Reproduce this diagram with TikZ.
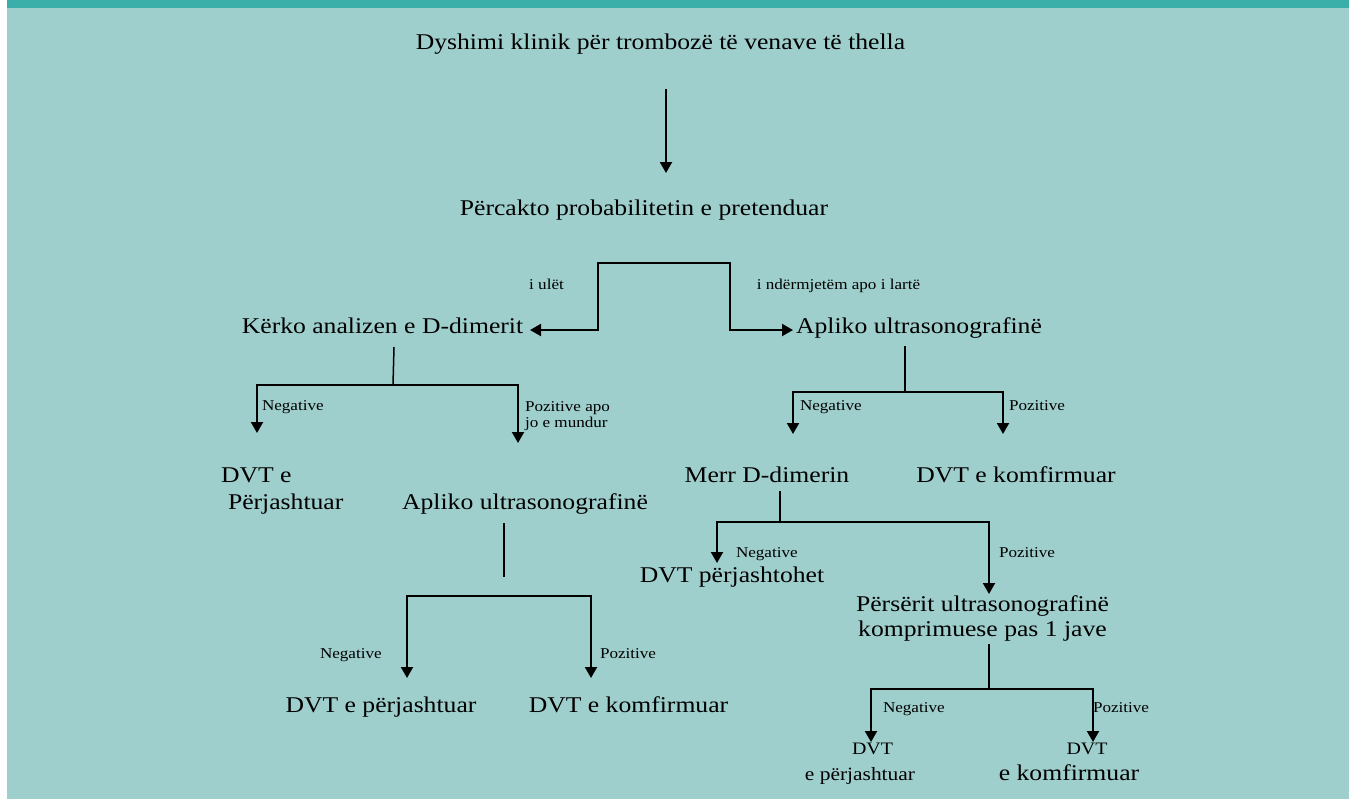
\documentclass[tikz,border=0pt]{standalone}
\usepackage{fontspec}
\setmainfont{Liberation Serif}[FakeStretch=1.14]
\usetikzlibrary{arrows.meta}
\definecolor{bgl}{RGB}{158,207,204}
\definecolor{bgd}{RGB}{58,175,169}
\begin{document}
\begin{tikzpicture}[x=1pt,y=-1pt,
  every node/.style={inner sep=0pt,outer sep=0pt},
  big/.style={font=\fontsize{22.5}{26}\selectfont,anchor=base},
  lbl/.style={font=\fontsize{15}{17}\selectfont,anchor=base west},
  sml/.style={font=\fontsize{17.5}{20}\selectfont,anchor=base},
  ln/.style={line width=1.5pt},
  arr/.style={line width=2pt,-{Triangle[width=12pt,length=11pt]}}]
\useasboundingbox (0,0) rectangle (1349,801);
\fill[bgl] (7,8) rectangle (1349,799);
\fill[bgd] (7,0) rectangle (1349,8);

% texts
\node[big] (t) at (660.5,49) {Dyshimi klinik për trombozë të venave të thella};
\node[big] (pc) at (644,215) {Përcakto probabilitetin e pretenduar};
\node[lbl,anchor=base] (lo) at (546.5,289) {i ulët};
\node[lbl,anchor=base] (hi) at (838.5,289) {i ndërmjetëm apo i lartë};
\node[big] (kd) at (382.5,333) {Kërko analizen e D-dimerit};
\node[big] (au) at (919,333) {Apliko ultrasonografinë};

\node[lbl] (n1) at (262,410) {Negative};
\node[lbl] (p1a) at (525,411) {Pozitive apo};
\node[lbl] (p1b) at (525,427) {jo e mundur};
\node[big,anchor=base west] (d1a) at (221,482) {DVT e};
\node[big,anchor=base west] (d1b) at (228,509) {Përjashtuar};
\node[big] (al) at (525,509) {Apliko ultrasonografinë};
\node[lbl] (n2) at (320,658) {Negative};
\node[lbl] (p2) at (600,658) {Pozitive};
\node[big] (d2) at (381,712) {DVT e përjashtuar};
\node[big] (c2) at (628.5,712) {DVT e komfirmuar};

\node[lbl] (n3) at (800,410) {Negative};
\node[lbl] (p3) at (1009,410) {Pozitive};
\node[big] (md) at (767,482) {Merr D-dimerin};
\node[big] (c3) at (1016,482) {DVT e komfirmuar};
\node[lbl] (n4) at (736,557) {Negative};
\node[lbl] (p4) at (999,557) {Pozitive};
\node[big] (dp) at (732,582) {DVT përjashtohet};
\node[big] (ps1) at (982.5,611) {Përsërit ultrasonografinë};
\node[big] (ps2) at (982.5,636) {komprimuese pas 1 jave};
\node[lbl] (n5) at (883,712) {Negative};
\node[lbl] (p5) at (1093,712) {Pozitive};
\node[sml] (d5a) at (872.5,754) {DVT};
\node[sml,font=\fontsize{18.8}{21}\selectfont] (d5b) at (860,780) {e përjashtuar};
\node[sml] (c5a) at (1087,754) {DVT};
\node[big] (c5b) at (1069,780) {e komfirmuar};

% connector points
\coordinate (t0) at (666,89);
\coordinate (t1) at (666,173);
\coordinate (b0) at (666,263);
\coordinate (bl) at (598,263);
\coordinate (br) at (730,263);
\coordinate (kdT) at (530,330);
\coordinate (auT) at (793,330);

\coordinate (k0) at (394,347);
\coordinate (k1) at (393,385);
\coordinate (kN) at (257,433);
\coordinate (kP) at (518,443);

\coordinate (a0) at (504,523);
\coordinate (a1) at (504,577);
\coordinate (a2) at (504,596);
\coordinate (aN) at (407,678);
\coordinate (aP) at (591,678);

\coordinate (r0) at (905,346);
\coordinate (r1) at (905,392);
\coordinate (rN) at (793,434);
\coordinate (rP) at (1003,434);

\coordinate (m0) at (780,491);
\coordinate (m1) at (780,522);
\coordinate (mN) at (717,563);
\coordinate (mP) at (989,594);

\coordinate (s0) at (989,644);
\coordinate (s1) at (989,689);
\coordinate (sN) at (871,742);
\coordinate (sP) at (1093,742);

% connectors
\draw[arr] (t0) -- (t1);
\draw[arr] (b0) -- (bl) -- (bl |- kdT) -- (kdT);
\draw[arr] (b0) -- (br) -- (br |- auT) -- (auT);

\draw[ln] (k0) -- (k1);
\draw[arr] (k1) -| (kN);
\draw[arr] (k1) -| (kP);

\draw[ln] (a0) -- (a1);
\draw[arr] (a2) -| (aN);
\draw[arr] (a2) -| (aP);

\draw[ln] (r0) -- (r1);
\draw[arr] (r1) -| (rN);
\draw[arr] (r1) -| (rP);

\draw[ln] (m0) -- (m1);
\draw[arr] (m1) -| (mN);
\draw[arr] (m1) -| (mP);

\draw[ln] (s0) -- (s1);
\draw[arr] (s1) -| (sN);
\draw[arr] (s1) -| (sP);
\end{tikzpicture}
\end{document}
